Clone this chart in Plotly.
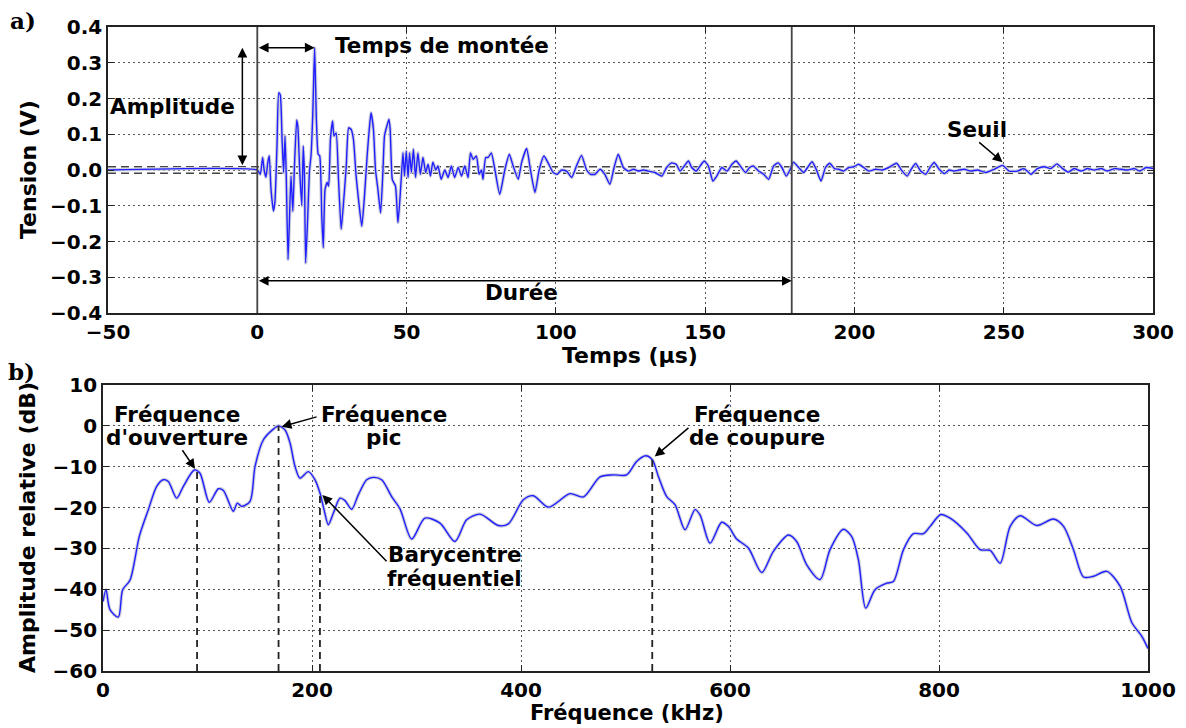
import plotly.graph_objects as go

# ---------------- data: panel a) acoustic emission waveform ----------------
T_US = [-50, 0, 1.0, 1.8, 2.3, 2.9, 3.5, 4.0, 4.6, 5.4, 5.9, 6.6, 7.2, 7.7, 8.3, 8.8, 9.3, 9.7,
        10.3, 10.8, 11.3, 11.9, 12.4, 13.2, 13.6, 14.2, 14.9, 15.4, 15.8, 16.2, 16.9, 17.5, 18.0,
        18.6, 19.2, 19.8, 20.4, 20.9, 21.6, 22.1, 22.7, 23.4, 23.9, 24.5, 25.2, 25.7, 26.4, 27.2,
        28.1, 28.9, 29.8, 30.6, 31.4, 32.2, 33.1, 33.9, 35.0, 35.9, 36.8, 37.5, 38.1, 38.9, 39.6,
        40.4, 41.3, 42.1, 42.6, 43.4, 44.1, 44.5, 45.2, 45.7, 46.3, 47.1, 47.7, 48.2, 48.8, 49.3,
        49.9, 50.5, 51.0, 51.6, 52.3, 53.0, 53.8, 54.6, 55.5, 56.4, 57.2, 58.0, 58.8, 59.8, 60.5,
        61.6, 62.8, 63.9, 65.0, 66.1, 67.3, 68.4, 69.5, 70.6, 71.4, 72.3, 73.4, 74.3, 75.1, 75.6,
        76.5, 77.3, 78.4, 79.6, 81.2, 82.9, 84.4, 85.7, 87.4, 88.5, 90.2, 91.5, 93.0, 94.4, 96.0,
        97.4, 99.1, 100.4, 101.9, 103.6, 105.3, 106.9, 108.6, 110.3, 111.6, 113.1, 114.8, 116.4,
        118.1, 119.5, 120.9, 122.6, 124.3, 126.0, 127.6, 129.3, 131.0, 133.2, 135.5, 137.1, 138.8,
        140.3, 141.6, 143.0, 144.4, 145.5, 147.0, 148.3, 149.7, 151.1, 152.6, 153.9, 155.6, 157.3,
        159.0, 160.4, 161.8, 163.5, 164.9, 166.2, 167.9, 169.6, 171.3, 172.9, 174.4, 175.7, 177.2,
        178.5, 179.6, 181.3, 183.0, 184.3, 185.8, 187.2, 188.8, 190.3, 191.7, 193.3, 194.7, 196.4,
        198.1, 199.8, 201.4, 203.1, 204.8, 207.0, 209.3, 211.5, 214.1, 216.0, 217.7, 219.0, 220.5,
        222.2, 223.9, 225.3, 226.7, 228.4, 230.1, 231.7, 233.4, 235.1, 236.8, 238.9, 241.2, 244.0,
        246.8, 249.6, 251.8, 254.6, 256.8, 259.1, 261.3, 263.6, 265.8, 267.8, 269.7, 271.6, 273.6,
        275.9, 278.1, 280.3, 282.6, 284.8, 287.1, 289.3, 291.5, 293.8, 295.5, 297.7, 300.0]
V_VOLT = [0, 0, -0.012, 0.035, 0, -0.02, 0.02, 0.04, -0.054, -0.115, -0.09, 0.067, 0.216, 0.21,
          0.086, -0.007, 0.095, -0.017, -0.25, -0.13, -0.017, -0.115, 0, 0.14, 0.12, 0, -0.1,
          0.067, -0.017, -0.26, -0.13, 0, 0.04, 0.16, 0.342, 0.14, 0.044, 0.04, -0.13, -0.217,
          -0.054, -0.035, -0.045, 0.086, 0.137, 0.095, 0.104, -0.026, -0.165, -0.09, 0.01, 0.118,
          0.114, 0.086, -0.017, -0.082, -0.157, -0.073, 0.04, 0.114, 0.16, 0.114, 0, -0.054,
          -0.12, 0, 0.095, 0.123, 0.142, 0.114, -0.026, -0.035, -0.045, -0.147, -0.09, -0.026,
          0.048, -0.017, 0.053, -0.021, 0.048, -0.007, 0.058, -0.021, 0.048, -0.012, 0.035, -0.007,
          0.016, -0.017, 0.022, 0, 0.011, -0.026, 0, -0.021, 0.011, -0.021, 0.007, -0.017, 0.011,
          -0.021, 0.048, 0.03, 0.039, -0.012, 0, -0.026, 0.035, 0.035, 0.048, 0, -0.068, 0, 0.044,
          0.011, -0.026, 0.02, 0.06, 0, -0.063, 0, 0.039, 0.02, -0.007, -0.012, 0, -0.003, -0.021,
          0.011, 0.041, 0, -0.012, -0.012, 0.002, -0.012, -0.04, 0.007, 0.044, 0.007, -0.003,
          0.002, -0.003, 0, -0.003, -0.007, -0.017, 0.007, 0.02, 0.016, -0.003, 0.011, 0.025,
          0.007, -0.003, 0.011, 0.025, 0.011, -0.031, -0.017, 0.007, -0.003, 0.016, 0.025, 0.011,
          -0.007, 0.007, 0.011, -0.003, -0.012, -0.026, 0.011, 0.02, 0.007, -0.017, 0.002, 0.022,
          0.007, -0.007, 0.007, 0.023, 0.002, -0.031, 0.007, 0.019, 0.004, 0.002, -0.003, 0.007,
          0.009, 0.016, 0.007, -0.003, 0.002, 0, 0.007, 0.019, -0.003, -0.017, 0.002, 0.018,
          -0.003, -0.012, 0.007, 0.021, 0.002, -0.01, 0, -0.003, 0, 0.002, -0.003, 0, -0.007,
          0.002, 0.013, -0.003, -0.003, 0.004, -0.012, 0.004, 0.009, 0.004, 0.017, 0.004, -0.006,
          0.004, -0.003, 0.004, 0, 0.004, -0.003, 0.004, 0.002, 0, 0.004, -0.003, 0.007, 0.004]

THRESHOLD_V = 0.009
RISE_END_US = 19.2
PEAK_V = 0.342
DURATION_END_US = 179

# ---------------- data: panel b) spectrum ----------------
F_KHZ = [0, 2.9, 6.7, 14.7, 18.8, 25.8, 34.8, 43.4, 51.4, 57.7, 62.5, 70.5, 76.9, 87.4, 92.8,
         101.7, 110.4, 115.2, 124.7, 128.5, 132.7, 140.7, 145.5, 153.5, 163, 168, 174.2, 179,
         183.7, 188.5, 196.5, 202.9, 207.7, 211.5, 215.6, 220.4, 226.8, 231.6, 238, 244.3, 252.3,
         258.7, 266.7, 276.2, 284.2, 295.4, 308.1, 322.5, 336.8, 348, 360.8, 378.3, 387.9, 402.2,
         411.8, 426.2, 446.9, 459.7, 475.6, 488.4, 501.1, 510.7, 519.3, 525.7, 531.5, 539.4,
         547.4, 557, 566.5, 571.3, 580.9, 592, 598.4, 606.4, 617.6, 630.4, 641.5, 655.9, 663.8,
         673.4, 686.2, 695.7, 708.5, 716.5, 722.9, 729.9, 738.8, 750, 756.4, 766, 775.5, 785.1,
         791.5, 801.7, 810.7, 826.6, 839.4, 849, 858.5, 868.1, 877.7, 893.6, 909.6, 919.2, 928.7,
         938.3, 947.9, 960.6, 973.4, 984.6, 994.1, 1000]
DB = [-43, -40.1, -45, -46.8, -40.1, -37.8, -27, -20.5, -14.8, -13.2, -13.6, -17.7, -14.8, -10.8,
      -11.6, -18.7, -15.4, -15.8, -20.9, -18.9, -19.7, -18.5, -9.9, -3.4, -0.8, 0, -1, -4.2, -9.9,
      -12.8, -11.2, -13.2, -16.5, -20.5, -24.2, -21.4, -17.7, -18.3, -20.4, -16.9, -13.2, -12.6,
      -13.2, -17.3, -20.3, -27.7, -22.6, -23.8, -28.3, -23, -21.6, -24.4, -24, -18.1, -17.1,
      -19.9, -16.6, -17.4, -12.5, -12, -12, -8.7, -7.3, -8.3, -12.4, -17.3, -19.3, -25.4, -20.5,
      -21.8, -28.7, -23.6, -24.6, -27.7, -29.9, -35.9, -30.7, -26.7, -28.3, -34, -37.6, -30.3,
      -25.3, -27.1, -32.8, -44.6, -40.1, -38.5, -38.1, -30.3, -26.4, -26.4, -24.6, -21.7, -22.6,
      -26.2, -30.3, -30.5, -33.6, -24.6, -22, -24.4, -22.8, -24.6, -30.3, -37, -36.8, -35.6,
      -39.3, -48.2, -51.5, -54.5]

FEATURE_F = [90, 168, 207.6, 525.6]
FEATURE_DB = [-11, 0, -16.5, -8]

W, H = 1186, 728
FONT = "DejaVu Sans"
LINE_BLUE = "#1f1fff"
HALO = "#cfcfdc"

fig = go.Figure()

# panel a
fig.add_trace(go.Scatter(x=T_US, y=V_VOLT, mode="lines", xaxis="x", yaxis="y",
                         line=dict(color=HALO, width=3.5, shape="spline", smoothing=0.5),
                         hoverinfo="skip", showlegend=False))
fig.add_trace(go.Scatter(x=T_US, y=V_VOLT, mode="lines", xaxis="x", yaxis="y",
                         line=dict(color=LINE_BLUE, width=1.4, shape="spline", smoothing=0.5),
                         showlegend=False))
# panel b
fig.add_trace(go.Scatter(x=F_KHZ, y=DB, mode="lines", xaxis="x2", yaxis="y2",
                         line=dict(color=HALO, width=3.5, shape="spline", smoothing=0.8),
                         hoverinfo="skip", showlegend=False))
fig.add_trace(go.Scatter(x=F_KHZ, y=DB, mode="lines", xaxis="x2", yaxis="y2",
                         line=dict(color=LINE_BLUE, width=1.4, shape="spline", smoothing=0.8),
                         showlegend=False))


def px_x(p):
    return p / W


def px_y(p):
    return 1 - p / H


axis_common = dict(
    showline=True, mirror="ticks", linecolor="#222", linewidth=1.6,
    ticks="inside", ticklen=6, tickwidth=1.2, tickcolor="#222",
    showgrid=True, gridcolor="#555", griddash="2px,3px", gridwidth=1,
    zeroline=False, automargin=False,
    tickfont=dict(family=FONT, size=20, color="black", weight="bold"),
)

fig.update_layout(
    width=W, height=H,
    margin=dict(l=0, r=0, t=0, b=0, pad=0, autoexpand=False),
    paper_bgcolor="white", plot_bgcolor="white",
    font=dict(family=FONT, color="black"),
    xaxis=dict(axis_common, domain=[px_x(108), px_x(1153)], anchor="y",
               range=[-50, 300], tick0=-50, dtick=50),
    yaxis=dict(axis_common, domain=[px_y(313), px_y(27)], anchor="x",
               range=[-0.4, 0.4], dtick=0.1, tickformat=".1f"),
    xaxis2=dict(axis_common, domain=[px_x(103), px_x(1148)], anchor="y2",
                range=[0, 1000], dtick=200),
    yaxis2=dict(axis_common, domain=[px_y(671), px_y(385)], anchor="x2",
                range=[-60, 10], dtick=10),
)

shapes = []
# threshold lines
for s in (1, -1):
    shapes.append(dict(type="line", xref="x", yref="y", x0=-50, x1=300,
                       y0=s * THRESHOLD_V, y1=s * THRESHOLD_V, layer="between",
                       line=dict(color="#444", width=1.6, dash="8px,5px")))
# start / end vertical lines
for t in (0, DURATION_END_US):
    shapes.append(dict(type="line", xref="x", yref="y", x0=t, x1=t, y0=-0.4, y1=0.4,
                       line=dict(color="#444", width=1.8)))
# feature dashed lines panel b
for f, d in zip(FEATURE_F, FEATURE_DB):
    shapes.append(dict(type="line", xref="x2", yref="y2", x0=f, x1=f, y0=-60, y1=d,
                       line=dict(color="#222", width=1.8, dash="7px,5px")))
fig.update_layout(shapes=shapes)

ann = []


def text(x, y, s, xref="x", yref="y", size=21.5, family=FONT, angle=0):
    ann.append(dict(x=x, y=y, xref=xref, yref=yref, text=s, showarrow=False,
                    xanchor="center", yanchor="middle", textangle=angle,
                    font=dict(family=family, size=size, color="black", weight="bold")))


def arrow(x, y, ax, ay, xref="x", yref="y", double=False):
    d = dict(x=x, y=y, ax=ax, ay=ay, xref=xref, yref=yref, axref=xref, ayref=yref,
             text="", showarrow=True, arrowhead=2, arrowsize=1.3, arrowwidth=1.5,
             arrowcolor="black", standoff=0, startstandoff=0)
    if double:
        d.update(arrowside="end+start", startarrowhead=2, startarrowsize=1.3)
    ann.append(d)


# panel a annotations
arrow(RISE_END_US, PEAK_V, 0, PEAK_V, double=True)
text(61.7, 0.347, "Temps de montée")
arrow(-5, PEAK_V, -5, THRESHOLD_V, double=True)
text(-28.5, 0.178, "Amplitude")
arrow(DURATION_END_US, -0.31, 0, -0.31, double=True)
text(88.6, -0.342, "Durée")
arrow(249.6, 0.022, 241.3, 0.081)
text(241, 0.114, "Seuil")

# panel b annotations
text(70.5, 2.8, "Fréquence", "x2", "y2")
text(70.5, -2.9, "d'ouverture", "x2", "y2")
arrow(88, -10.5, 75, -5.6, "x2", "y2")
text(269, 2.8, "Fréquence", "x2", "y2")
text(269, -2.9, "pic", "x2", "y2")
arrow(171, -0.2, 205.8, 2.3, "x2", "y2")
text(337, -31.5, "Barycentre", "x2", "y2")
text(336, -37.3, "fréquentiel", "x2", "y2")
arrow(210, -16.9, 272.7, -33.5, "x2", "y2")
text(626, 2.8, "Fréquence", "x2", "y2")
text(626, -2.9, "de coupure", "x2", "y2")
arrow(528, -7.5, 561.7, -0.2, "x2", "y2")

# axis titles
text(px_x(28), px_y(170), "Tension (V)", "paper", "paper", size=22, angle=-90)
text(px_x(630), px_y(355), "Temps (µs)", "paper", "paper", size=22)
text(px_x(27), px_y(528), "Amplitude relative (dB)", "paper", "paper", size=22, angle=-90)
text(px_x(627), px_y(713), "Fréquence (kHz)", "paper", "paper", size=21)

# panel labels
text(px_x(23), px_y(20), "a)", "paper", "paper", size=23, family="DejaVu Serif")
text(px_x(21), px_y(371), "b)", "paper", "paper", size=23, family="DejaVu Serif")

fig.update_layout(annotations=ann)

# remove the default page margin so the 1186x728 figure fills the window exactly
fig.write_html("out.html",
               config={"displayModeBar": False},
               post_script="document.body.style.margin='0px';"
                           "document.body.style.overflow='hidden';")
